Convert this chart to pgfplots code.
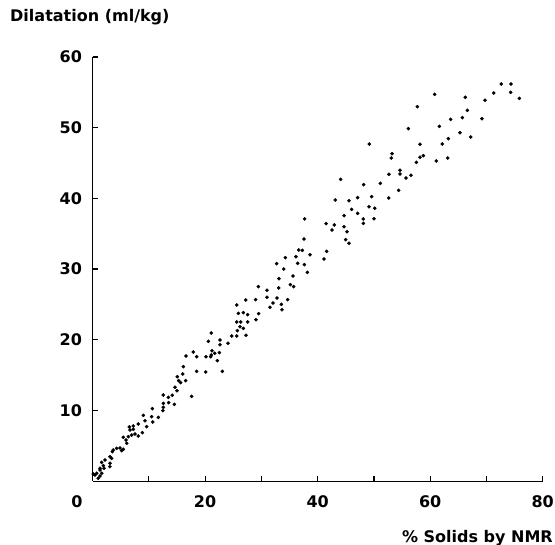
\documentclass[border=0pt]{standalone}
\usepackage{pgfplots}
\pgfplotsset{compat=1.18}
\usepackage{fontspec}
\setmainfont{DejaVu Sans}

\begin{document}
\fontsize{16}{19}\selectfont\bfseries
\begin{tikzpicture}
\begin{axis}[
  x=5.626pt, y=7.07pt,
  xmin=0, xmax=80, ymin=0, ymax=60,
  axis x line=bottom, axis y line=left,
  axis line style={-, line width=1.3pt},
  xtick={10,20,...,80}, xticklabels={,20,,40,,60,,80},
  ytick={10,20,...,60},
  tick align=inside,
  major tick length=5pt,
  tick style={line width=1.2pt, black},
  tick label style={font=\fontsize{16}{19}\selectfont\bfseries},
  xticklabel style={anchor=center, yshift=-20.5pt, inner sep=0pt},
  yticklabel style={anchor=east, xshift=-10.5pt, inner sep=0pt},
  /pgf/number format/assume math mode=true,
  clip=false,
]
  \addplot[only marks, mark=*, mark size=1.6pt, black] coordinates {
    (25.61,24.92) (27.21,25.63) (25.90,23.74) (26.79,23.84) (27.56,23.55)
    (25.61,22.52) (26.32,22.52) (27.56,22.52) (25.73,21.29) (26.20,21.86)
    (26.79,21.62) (24.72,20.54) (25.61,20.54) (27.27,20.63) (21.10,20.96)
    (20.57,19.78) (22.64,19.97) (22.64,19.31) (24.07,19.50) (17.90,18.27)
    (18.50,17.61) (16.60,17.71) (20.16,17.61) (21.10,17.85) (21.22,18.46)
    (21.70,18.09) (22.53,18.18) (20.99,17.61) (22.17,17.05) (23.06,15.54)
    (18.50,15.54) (20.10,15.45) (16.13,16.20) (16.01,15.16) (15.06,14.78)
    (15.30,14.22) (16.54,14.22) (15.65,13.94) (14.65,13.28) (15.00,12.80)
    (17.61,12.00) (12.57,12.19) (13.46,11.86) (14.17,12.15) (13.52,11.11)
    (12.57,11.01) (12.57,10.45) (12.51,9.98) (14.53,10.87) (10.62,10.26)
    (11.68,9.03) (9.02,9.32) (10.50,9.13) (10.68,8.37) (9.31,8.56)
    (9.61,7.71) (8.84,6.86) (8.13,8.09) (7.24,7.81) (6.53,7.67)
    (6.65,7.24) (7.24,7.34) (7.54,6.68) (8.13,6.39) (6.94,6.53)
    (6.35,6.30) (5.94,5.83) (5.46,6.21) (6.06,5.36) (5.46,4.51)
    (5.17,4.32) (4.87,4.70) (4.28,4.65) (3.68,4.41) (3.51,4.18)
    (3.09,3.47) (3.39,3.23) (2.20,3.00) (1.61,2.67) (1.91,2.20)
    (3.09,2.53) (3.09,2.06) (1.32,1.82) (2.03,1.82)
    (1.01,0.41) (0.43,0.88) (0.73,1.12) (1.32,0.74) (0.12,1.02) (1.62,1.12) (1.32,1.58)
    (44.09,42.70) (43.14,39.77) (45.57,39.68) (44.69,37.56) (37.69,37.09)
    (41.49,36.43) (42.97,36.24) (42.55,35.53) (44.69,36.00) (45.22,35.29)
    (44.98,34.16) (45.57,33.65) (37.58,34.26) (36.63,32.70) (37.28,32.65)
    (38.64,32.04) (36.15,31.76) (41.61,32.51) (41.13,31.43) (34.26,31.62)
    (32.72,30.77) (36.45,30.82) (37.63,30.63) (33.96,30.01) (38.17,29.54)
    (33.13,28.65) (35.62,29.02) (29.46,27.52) (31.00,27.00) (33.07,27.33)
    (35.15,27.80) (35.74,27.52) (28.98,25.68) (31.00,26.01) (32.78,25.91)
    (34.67,25.68) (32.07,25.21) (31.53,24.59) (33.55,25.02) (33.66,24.26)
    (29.52,23.70) (29.04,22.85)
    (72.65,56.18) (74.37,56.18) (74.31,55.00) (75.85,54.15) (71.29,54.91)
    (69.75,53.87) (60.80,54.72) (66.25,54.30) (66.61,52.46) (65.72,51.42)
    (69.21,51.28) (63.65,51.18) (57.72,52.97) (61.63,50.19) (56.12,49.86)
    (65.30,49.30) (67.20,48.68) (63.23,48.45) (62.16,47.69) (58.19,47.65)
    (49.19,47.69) (53.22,46.33) (53.10,45.71) (58.79,46.04) (58.19,45.81)
    (63.11,45.71) (61.10,45.29) (57.54,45.10) (54.64,43.97) (54.64,43.45)
    (52.68,43.40) (55.71,42.89) (56.59,43.26) (51.14,42.13) (48.18,41.94)
    (54.40,41.14) (47.11,40.10) (49.60,40.24) (52.63,40.06) (49.13,38.83)
    (50.14,38.60) (46.05,38.45) (47.11,37.89) (50.02,37.13) (48.12,37.09)
    (48.12,36.47)
  };
  \node[anchor=center, inner sep=0pt] at (axis cs:0,0) [xshift=-15.6pt, yshift=-20.5pt] {0};
  \node[anchor=west, inner sep=0pt] at (axis cs:0,60) [xshift=-82.6pt, yshift=40pt] {Dilatation (ml/kg)};
  \node[anchor=east, inner sep=0pt] at (axis cs:80,0) [xshift=10.3pt, yshift=-56.8pt] {\% Solids by NMR};
\end{axis}
\pgfresetboundingbox
\useasboundingbox (-92.6pt,-63.8pt) rectangle (462.4pt,481.2pt);
\end{tikzpicture}
\end{document}
